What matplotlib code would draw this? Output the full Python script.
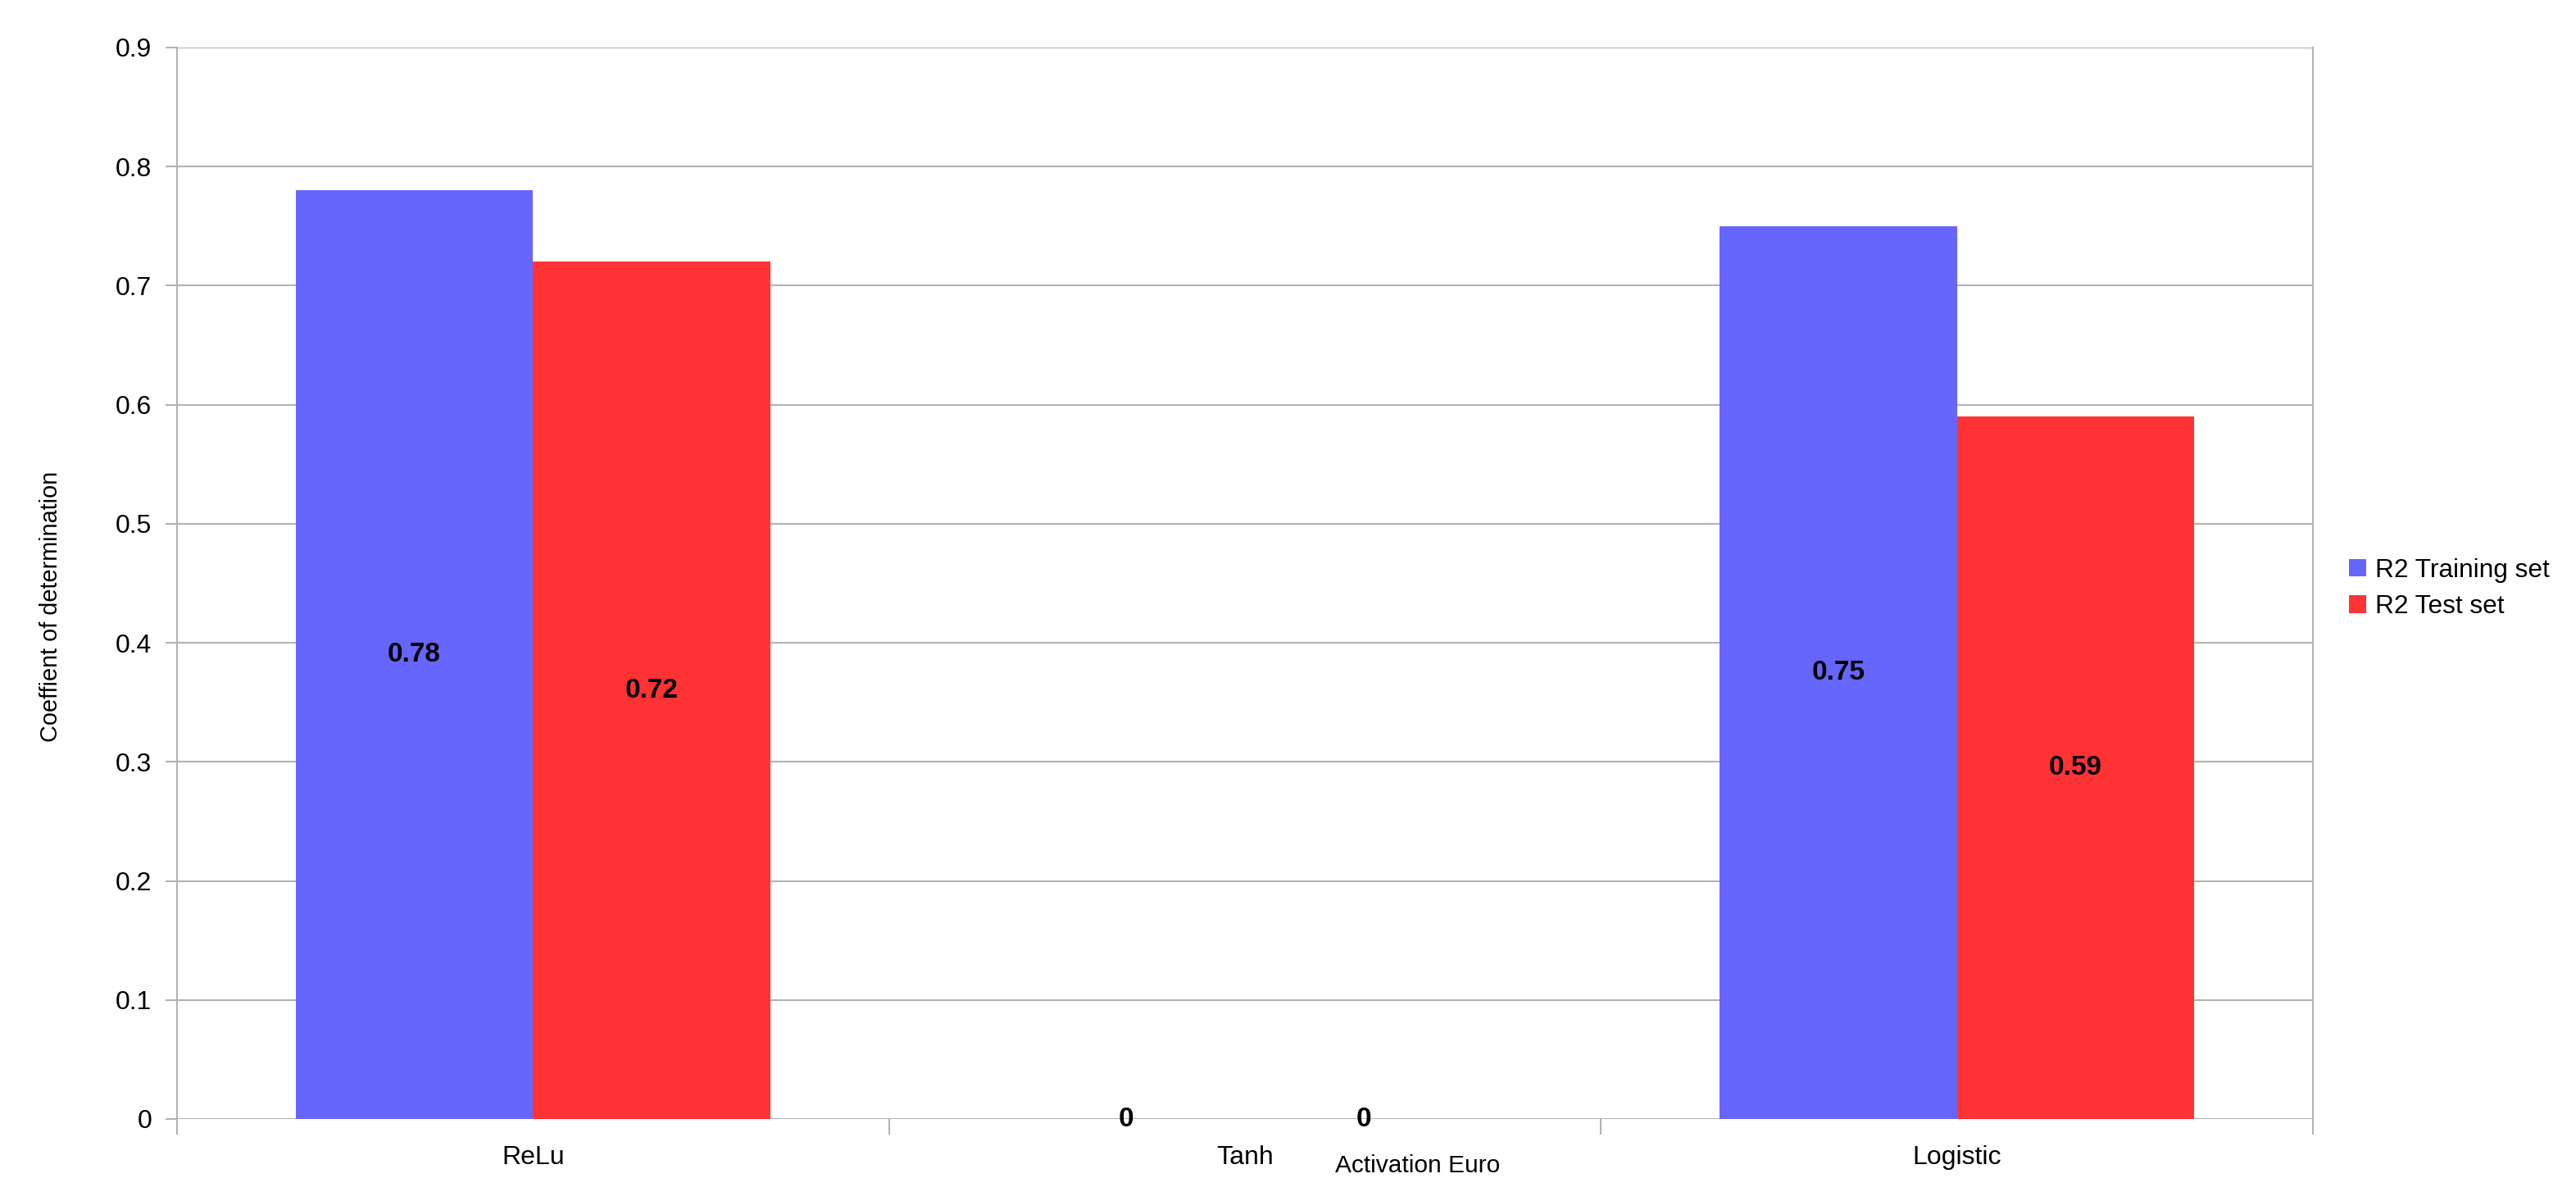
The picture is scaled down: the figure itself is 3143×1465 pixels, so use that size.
import matplotlib
matplotlib.use('Agg')
from matplotlib import pyplot as plt
import numpy as np

plt.rcParams['font.family'] = ['Liberation Sans', 'DejaVu Sans']

# data
categories = ['ReLu', 'Tanh', 'Logistic']
series_names = ['R2 Training set', 'R2 Test set']
r2_train = [0.78, 0.0, 0.75]
r2_test = [0.72, 0.0, 0.59]
yticks = [0, 0.1, 0.2, 0.3, 0.4, 0.5, 0.6, 0.7, 0.8, 0.9]

colors = ['#6666ff', '#ff3333']
grid_col = '#b3b3b3'

W, H = 3143, 1465
fig = plt.figure(figsize=(W / 100, H / 100), dpi=100)
ax = fig.add_axes([216 / W, 1 - 1365 / H, (2822 - 216) / W, (1365 - 58) / H])

x = np.arange(len(categories))
bw = 1 / 3
for i, (vals, name) in enumerate(zip([r2_train, r2_test], series_names)):
    pos = x + (i - 0.5) * bw
    ax.bar(pos, vals, width=bw, color=colors[i], label=name, zorder=3, linewidth=0)
    for xp, v in zip(pos, vals):
        ax.text(xp, v / 2, '%g' % v, ha='center', va='center',
                fontsize=24, fontweight='bold', zorder=4)

ax.set_xlim(-0.5, 2.5)
ax.set_ylim(0, 0.9)
ax.set_yticks(yticks)
ax.set_yticklabels(['%g' % t for t in yticks], fontsize=23)
ax.yaxis.grid(True, color=grid_col, linewidth=1.5, zorder=0)
ax.tick_params(axis='y', length=10, width=1.5, color=grid_col, pad=12)

ax.set_xticks(x)
ax.set_xticklabels(categories, fontsize=23)
ax.set_xticks(np.arange(-0.5, 3, 1), minor=True)
ax.tick_params(axis='x', which='major', length=0, pad=23)
ax.tick_params(axis='x', which='minor', length=14, width=1.5, color=grid_col)

for s in ['top', 'bottom']:
    ax.spines[s].set_visible(False)
for s in ['left', 'right']:
    ax.spines[s].set_color(grid_col)
    ax.spines[s].set_linewidth(1.5)

fig.text(1730 / W, 1 - 1422 / H, 'Activation Euro', ha='center', va='center', fontsize=21.5)
fig.text(62 / W, 1 - 740 / H, 'Coeffient of determination', ha='center', va='center',
         rotation=90, fontsize=20.8)

fig.legend(loc='center left', bbox_to_anchor=(2866 / W, 1 - 718 / H), frameon=False,
           fontsize=22.8, handlelength=0.65, handleheight=0.65, handletextpad=0.35,
           borderpad=0, borderaxespad=0, labelspacing=0.45)

fig.savefig('out.png', dpi=100)
